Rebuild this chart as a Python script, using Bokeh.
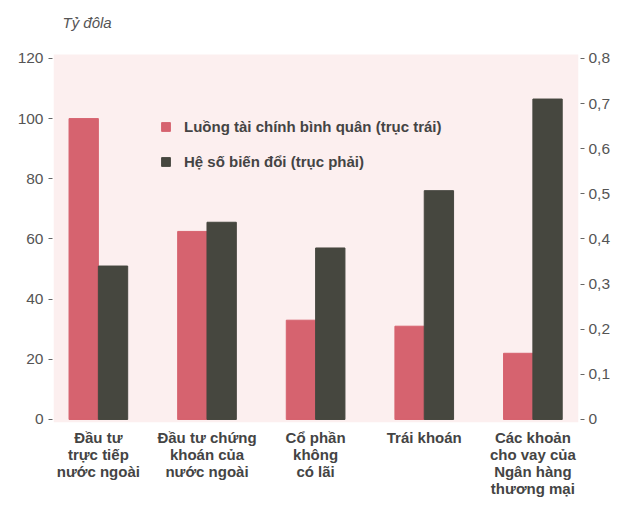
from bokeh.plotting import figure
from bokeh.models import (Range1d, LinearAxis, FixedTicker, Legend, LegendItem,
                          ColumnDataSource, Label, BoxAnnotation)
from bokeh.embed import file_html
from bokeh.resources import INLINE

categories = ["Đầu tư\ntrực tiếp\nnước ngoài",
              "Đầu tư chứng\nkhoán của\nnước ngoài",
              "Cổ phần\nkhông\ncó lãi",
              "Trái khoán",
              "Các khoản\ncho vay của\nNgân hàng\nthương mại"]
flows = [100, 62.5, 33, 31, 22]          # left axis, Tỷ đôla
coef = [0.34, 0.437, 0.38, 0.507, 0.71]  # right axis
left_ticks = [0, 20, 40, 60, 80, 100, 120]
right_ticks = [0, 0.1, 0.2, 0.3, 0.4, 0.5, 0.6, 0.7, 0.8]
right_labels = ["0", "0,1", "0,2", "0,3", "0,4", "0,5", "0,6", "0,7", "0,8"]
series_names = ["Luồng tài chính bình quân (trục trái)", "Hệ số biến đổi (trục phải)"]
unit_label = "Tỷ đôla"

PINK = "#D6636F"
DARK = "#46473F"
BG = "#FCEFEF"
FONT = "Liberation Sans"

W, H = 613, 500
BL, BR, BT, BB = 53, 33, 10, 78
FRAME_H = H - BT - BB

idx = list(range(len(categories)))
bw = 0.27
src = ColumnDataSource(dict(
    xp=[i - bw / 2 for i in idx],
    xd=[i + bw / 2 for i in idx],
    flows=flows, coef=coef))

# shaded panel spans -1 .. 121.3 on the left scale; the frame extends above it
panel_top = 121.3
y0 = -1.0
px_per_unit = (FRAME_H - (54 - BT)) / (panel_top - y0)
y1 = panel_top + (54 - BT) / px_per_unit

p = figure(width=W, height=H, output_backend="svg", toolbar_location=None,
           x_range=Range1d(-0.413, 4.42), y_range=Range1d(y0, y1),
           min_border_left=BL, min_border_right=BR, min_border_top=BT, min_border_bottom=BB,
           background_fill_color="white", border_fill_color="white", outline_line_color=None)
p.extra_y_ranges = {"right": Range1d(y0 / 150, y1 / 150)}

p.add_layout(BoxAnnotation(top=panel_top, fill_color=BG, fill_alpha=1.0,
                           line_color=None, level="underlay"))

r1 = p.vbar(x="xp", top="flows", bottom=0, width=bw, color=PINK, source=src)
r2 = p.vbar(x="xd", top="coef", bottom=0, width=bw, color=DARK, source=src, y_range_name="right")

p.xgrid.visible = False
p.ygrid.visible = False

# x axis
xa = p.xaxis[0]
xa.ticker = FixedTicker(ticks=idx)
xa.major_label_overrides = {i: c for i, c in zip(idx, categories)}
xa.axis_line_color = None
xa.major_tick_line_color = None
xa.major_tick_in = 0
xa.major_tick_out = 0
xa.minor_tick_line_color = None
xa.major_label_text_font = FONT
xa.major_label_text_font_style = "bold"
xa.major_label_text_font_size = "15px"
xa.major_label_text_line_height = 1.0
xa.major_label_text_color = "#444444"
xa.major_label_standoff = 6

# left axis
ya = p.yaxis[0]
ya.ticker = FixedTicker(ticks=left_ticks)
ya.axis_line_color = None
ya.minor_tick_line_color = None
ya.major_tick_in = -1
ya.major_tick_out = 5
ya.major_tick_line_color = "#666666"
ya.major_label_standoff = 5
ya.major_label_text_font = FONT
ya.major_label_text_font_size = "15.5px"
ya.major_label_text_color = "#555555"

# right axis
ra = LinearAxis(y_range_name="right")
ra.ticker = FixedTicker(ticks=right_ticks)
ra.major_label_overrides = {t: l for t, l in zip(right_ticks, right_labels)}
ra.axis_line_color = None
ra.minor_tick_line_color = None
ra.major_tick_in = -2
ra.major_tick_out = 6
ra.major_tick_line_color = "#666666"
ra.major_label_standoff = 4
ra.major_label_text_font = FONT
ra.major_label_text_font_size = "15.5px"
ra.major_label_text_color = "#555555"
p.add_layout(ra, "right")

# unit label (inside the white top strip of the frame)
p.add_layout(Label(x=9, y=FRAME_H - 12, x_units="screen", y_units="screen",
                   text=unit_label, text_font=FONT, text_font_style="italic",
                   text_font_size="15px", text_color="#555555",
                   text_baseline="middle", text_align="left"))

legend = Legend(items=[LegendItem(label=series_names[0], renderers=[r1]),
                       LegendItem(label=series_names[1], renderers=[r2])],
                location=(107, 252), padding=0, margin=0, spacing=18,
                glyph_width=11, glyph_height=11, label_height=11, label_standoff=13,
                label_text_font=FONT, label_text_font_style="bold",
                label_text_font_size="15px", label_text_color="#444444",
                background_fill_alpha=0, border_line_color=None)
p.add_layout(legend, "center")

open("out.html", "w").write(file_html(p, INLINE))
